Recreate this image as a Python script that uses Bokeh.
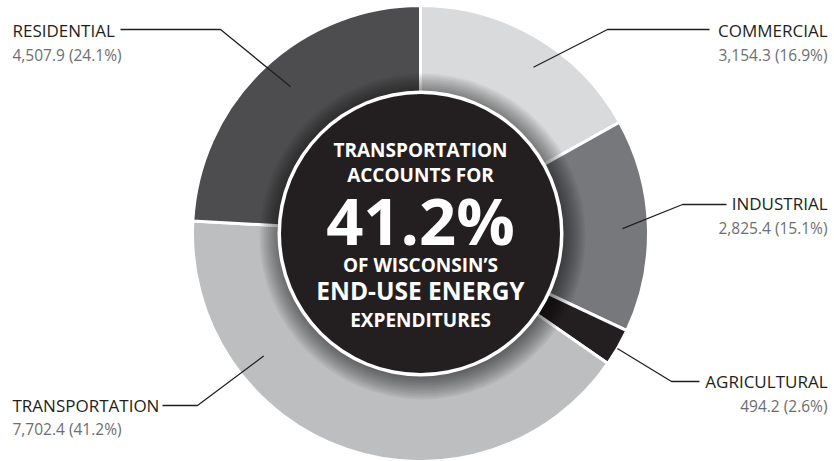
import math
from bokeh.plotting import figure
from bokeh.models import ColumnDataSource, Range1d
from bokeh.embed import file_html
from bokeh.resources import INLINE
from bokeh.core.properties import value

# ---- data ----
labels = ["COMMERCIAL", "INDUSTRIAL", "AGRICULTURAL", "TRANSPORTATION", "RESIDENTIAL"]
values = [3154.3, 2825.4, 494.2, 7702.4, 4507.9]
percents = ["16.9%", "15.1%", "2.6%", "41.2%", "24.1%"]
center_lines = ["TRANSPORTATION", "ACCOUNTS FOR", "41.2%", "OF WISCONSIN\u2019S",
                "END-USE ENERGY", "EXPENDITURES"]

# ---- styles / layout ----
colors = ["#d9dadb", "#77787b", "#231f20", "#bcbec0", "#4d4d4f"]
W, H = 834, 461
def Y(y):  # image-y -> data-y
    return H - y

CX, CY = 420, Y(233)
R_OUT, R_IN = 228, 120

# leader layout: anchor angle(deg), anchor radius, elbow (img), end x, text x, align, title baseline, value baseline
leader = [
    (55.8, 201, (607, 29), 709, 827, "right", 37, 60),
    (1.4, 202, (682, 204), 726, 827, "right", 210, 233),
    (-30.3, 228, (671, 381), 699, 827, "right", 388, 411),
    (218.0, 199, (197, 405), 162, 12, "left", 412, 434),
    (131.5, 196, (220, 29), 120, 12, "left", 37, 60),
]
center_sizes = [19, 19, 65, 19, 24.5, 19]
center_base = [157, 182, 243, 272, 300, 327]
# empirical baseline corrections (px, upward) for the renderer
center_corr = [8, 8, 24, 8, 10, 8]
TITLE_FS, VALUE_FS = 17, 15.5
TITLE_CORR, VALUE_CORR = 7, 6

FONT = "Open Sans"

p = figure(width=W, height=H, output_backend="svg", toolbar_location=None,
           x_range=Range1d(0, W), y_range=Range1d(0, H),
           x_axis_type=None, y_axis_type=None, min_border=0,
           outline_line_color=None, background_fill_color="white",
           border_fill_color="white")
p.grid.visible = False

# wedges (clockwise from 12 o'clock)
total = sum(values)
starts, ends = [], []
acc = 0.0
for v in values:
    a_hi = 90 - 360 * acc / total
    acc += v
    a_lo = 90 - 360 * acc / total
    starts.append(a_lo)
    ends.append(a_hi)

src = ColumnDataSource(dict(start=starts, end=ends, color=colors))
p.annular_wedge(x=CX, y=CY, inner_radius=R_IN, outer_radius=R_OUT,
                start_angle="start", end_angle="end", start_angle_units="deg",
                end_angle_units="deg", direction="anticlock",
                fill_color="color", line_color="white", line_width=3, source=src)

# soft shadow around the center disc
for k in range(12):
    p.circle(x=CX + 2, y=CY - 3, radius=141 + 2 * k, fill_color="black",
             fill_alpha=0.05, line_color=None)

p.circle(x=CX, y=CY, radius=143, fill_color="white", line_color=None)
p.circle(x=CX, y=CY, radius=139.5, fill_color="#231f20", line_color=None)

# leader lines and labels
for i, (ang, rad, elbow, endx, tx, align, yb1, yb2) in enumerate(leader):
    ax = CX + rad * math.cos(math.radians(ang))
    ay = CY + rad * math.sin(math.radians(ang))
    p.line(x=[ax, elbow[0], endx], y=[ay, Y(elbow[1]), Y(elbow[1])],
           line_color="#231f20", line_width=1.3)
    p.text(x=[tx], y=[Y(yb1 - TITLE_CORR)], text=[labels[i]], text_font=value(FONT),
           text_font_size=f"{TITLE_FS}px", text_color="#231f20", text_align=align,
           text_baseline="alphabetic")
    p.text(x=[tx], y=[Y(yb2 - VALUE_CORR)], text=[f"{values[i]:,.1f} ({percents[i]})"],
           text_font=value(FONT), text_font_size=f"{VALUE_FS}px", text_color="#6d6e71",
           text_align=align, text_baseline="alphabetic")

# center text
for s, fs, yb, c in zip(center_lines, center_sizes, center_base, center_corr):
    p.text(x=[CX], y=[Y(yb - c)], text=[s], text_font=value(FONT), text_font_size=f"{fs}px",
           text_font_style="bold", text_color="white", text_align="center",
           text_baseline="alphabetic")

open("out.html", "w").write(file_html(p, INLINE))
